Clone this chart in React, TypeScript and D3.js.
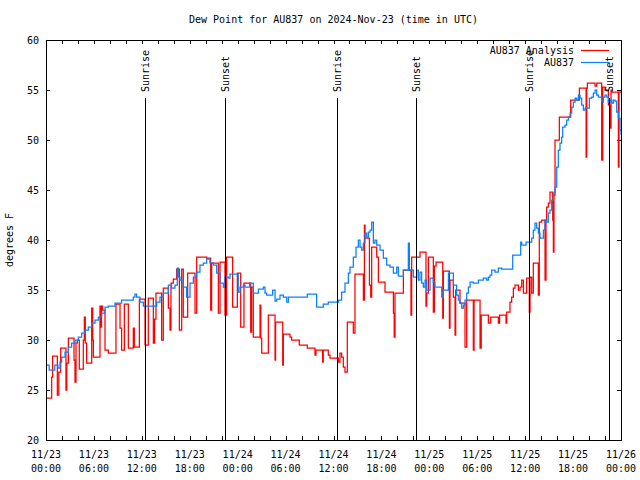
import { useEffect, useRef } from 'react';
import * as d3 from 'd3';

// hours after 2024-11-23 00:00 UTC
const analysisHours = [
  0, 0.71, 0.83, 1.42, 1.6, 1.84, 2.5, 2.6, 2.8, 3.51, 3.63, 3.76, 3.92, 4.17, 4.67, 4.8, 4.92, 5.09,
  5.72, 5.85, 5.93, 6.76, 6.89, 6.95, 7.1, 7.39, 7.81, 8.76, 9.27, 9.47, 9.81, 10.31, 10.93, 11.06,
  11.69, 12.4, 12.81, 13.44, 13.6, 13.77, 14.48, 14.69, 15.32, 15.53, 15.65, 15.94, 16.36, 16.7,
  16.99, 17.19, 17.74, 18.66, 18.87, 20.12, 20.62, 20.74, 21.58, 21.79, 22.41, 22.62, 23.37, 23.96,
  24.38, 24.79, 25.63, 25.75, 25.96, 26.8, 26.9, 27.01, 27.84, 28.68, 28.75, 29.64, 29.72, 30.55,
  30.76, 31.72, 32.72, 33.68, 33.8, 34.64, 34.72, 35.35, 35.56, 36.61, 36.81, 37.02, 37.23, 37.44,
  37.73, 38.48, 38.69, 39.74, 39.87, 39.95, 40.5, 40.66, 40.78, 41.41, 41.62, 42.45, 43.5, 43.6,
  43.7, 44.75, 45.7, 45.79, 46.83, 47.58, 47.67, 47.88, 48.5, 48.63, 48.84, 49.68, 49.76, 50.51,
  50.59, 51.01, 51.22, 51.3, 51.84, 52.47, 52.68, 53.51, 53.6, 54.35, 54.5, 55.39, 55.68, 56.64,
  56.8, 57.6, 57.69, 58.1, 58.31, 58.52, 58.73, 59.15, 59.36, 59.57, 59.78, 60.19, 60.52, 60.61,
  60.82, 61.02, 61.65, 61.77, 62.07, 62.49, 62.61, 62.69, 62.9, 63.11, 63.45, 63.53, 63.61, 63.74,
  64.28, 65.7, 66.79, 67.63, 67.71, 67.79, 68.75, 68.96, 69.58, 69.71, 70.0, 70.42, 70.63, 70.75,
  70.84, 71.67, 71.75, 72,
];
const analysisValues = [
  24.2, 26.3, 28.4, 24.5, 26.8, 29.2, 25.0, 27.7, 30.2, 28.0, 25.8, 29.7, 30.0, 27.1, 30.0, 32.3, 29.7, 27.7,
  33.2, 30.0, 28.3, 33.4, 31.3, 33.4, 33.0, 29.0, 28.7, 33.6, 31.2, 29.0, 33.6, 29.2, 31.2, 29.3,
  34.1, 29.5, 34.2, 29.7, 32.1, 34.7, 30.0, 35.2, 33.2, 31.0, 35.7, 36.1, 37.1, 31.0,
  37.1, 32.3, 36.7, 32.7, 38.3, 38.2, 33.0, 37.7, 32.7, 37.8, 32.5, 38.3, 33.3, 36.7,
  31.3, 35.7, 30.8, 35.3, 30.3, 33.5, 30.2, 28.7, 32.5, 28.0, 31.8, 27.5, 30.6, 30.3,
  30.0, 29.5, 29.2, 28.5, 29.0, 27.8, 29.0, 28.5, 28.2, 27.8, 28.7, 28.3, 27.3, 26.8,
  31.8, 30.7, 36.6, 34.0, 41.5, 40.2, 35.5, 34.3, 39.3, 38.3, 35.8, 34.8, 32.7, 30.3,
  34.7, 37.0, 32.5, 38.3, 38.8, 33.4, 34.7, 38.3, 32.8, 37.4, 37.8, 32.2, 36.9, 31.2,
  36.0, 34.3, 30.5, 35.0, 33.7, 29.3, 34.0, 29.0, 34.0, 29.2, 32.5, 31.7, 32.3, 31.7,
  32.5, 31.7, 32.8, 33.8, 34.3, 35.2, 35.5, 35.0, 35.3, 36.0, 34.7, 36.2, 32.8, 36.3,
  34.7, 37.7, 34.5, 41.8, 42.0, 36.0, 42.0, 43.3, 43.7, 44.8, 42.0, 38.8, 44.5, 50.0,
  52.3, 54.0, 55.2, 48.3, 55.2, 55.7, 55.4, 55.7, 48.0, 55.3, 55.0, 53.5, 51.2, 55.0,
  54.8, 47.3, 54.8, 54.8,
];

const stationHours = [
  0, 0.4, 1.1, 1.5, 1.75, 1.96, 2.38, 2.8, 3.21, 3.63, 4.05, 4.47, 4.88, 5.3, 5.72, 6.14, 6.55, 6.97,
  7.39, 7.81, 8.64, 9.47, 10.93, 11.14, 11.35, 11.77, 12.19, 13.86, 14.27, 14.69, 15.32, 15.73, 16.15,
  16.44, 16.6, 16.78, 17.19, 17.61, 18.03, 18.45, 18.87, 19.28, 19.7, 20.12, 20.53, 20.95, 21.37,
  21.79, 22.2, 22.41, 22.83, 23.04, 24.08, 24.29, 24.71, 24.92, 25.5, 25.96, 26.6, 27.21, 27.42,
  27.63, 28.38, 28.68, 28.89, 29.3, 29.72, 30.14, 30.35, 32.72, 33.89, 34.72, 35.35, 36.61, 37.02,
  37.44, 37.86, 38.07, 38.48, 38.82, 39.11, 39.32, 39.53, 39.74, 39.95, 40.16, 40.37, 40.58, 40.78,
  40.99, 41.2, 41.41, 41.83, 42.24, 42.66, 43.08, 43.5, 43.91, 44.12, 44.75, 45.37, 45.5, 46.0,
  46.41, 46.62, 46.83, 47.04, 47.25, 47.46, 47.67, 48.09, 48.5, 48.71, 49.55, 49.76, 50.39, 51.01,
  51.42, 51.63, 51.84, 52.05, 52.26, 52.47, 52.68, 52.89, 53.1, 53.51, 54.14, 54.76, 55.18, 55.39,
  55.6, 55.81, 56.23, 56.64, 57.06, 58.44, 59.44, 59.57, 60.11, 60.82, 61.02, 61.23, 61.44, 61.65,
  61.86, 62.28, 62.49, 62.69, 62.9, 63.11, 63.32, 63.53, 63.74, 63.95, 64.15, 64.36, 64.57, 64.7,
  64.99, 65.2, 65.41, 65.62, 65.83, 66.04, 66.25, 66.46, 66.67, 66.87, 67.08, 67.29, 67.5, 68.04,
  68.33, 68.54, 68.75, 68.96, 69.17, 69.58, 69.79, 70.0, 70.21, 70.42, 70.63, 70.84, 71.05, 71.25,
  71.46, 71.67, 71.88, 72,
];
const stationValues = [
  27.5, 27.0, 27.5, 27.2, 27.8, 28.3, 28.8, 29.3, 29.7, 30.0, 30.3, 30.7, 31.0, 31.3, 31.7, 32.0, 32.3, 32.7,
  33.3, 33.4, 33.7, 34.0, 34.3, 34.6, 34.3, 33.8, 33.4, 33.8, 34.3, 34.7, 35.5, 35.2, 35.5,
  37.2, 36.3, 36.0, 35.3, 34.3, 35.7, 36.3, 36.8, 37.5, 37.7, 38.1, 37.7, 37.5, 36.7,
  35.7, 35.3, 36.3, 36.2, 36.6, 34.8, 35.3, 35.5, 35.3, 35.7, 34.7, 35.1, 35.3, 34.7,
  34.5, 35.0, 33.9, 34.1, 34.5, 34.3, 33.8, 34.3, 34.6, 33.3, 33.6, 33.8, 34.0, 34.8,
  35.7, 36.7, 37.3, 38.3, 39.3, 40.0, 39.3, 39.0, 39.7, 40.7, 40.3, 40.8, 41.0, 41.8,
  39.7, 40.0, 39.5, 39.0, 38.2, 37.5, 37.3, 36.7, 37.3, 36.4, 37.0, 39.7, 37.0, 36.3,
  37.0, 36.0, 36.8, 35.7, 35.3, 36.0, 35.0, 36.2, 35.8, 35.3, 34.3, 35.0, 36.7, 35.5,
  34.5, 34.0, 33.7, 33.2, 33.5, 34.0, 34.7, 35.3, 35.8, 35.7, 36.0, 36.2, 36.0, 36.3,
  36.5, 37.0, 36.8, 37.2, 37.1, 38.5, 39.8, 39.5, 39.8, 40.2, 41.0, 41.7, 41.2, 40.7,
  40.2, 41.0, 42.0, 41.8, 42.7, 43.0, 44.0, 44.7, 45.3, 47.3, 49.0, 49.7, 50.3, 51.3,
  51.5, 52.0, 52.3, 52.7, 53.3, 53.8, 54.2, 54.0, 54.5, 54.2, 53.5, 53.0, 53.2, 54.2,
  54.3, 54.7, 55.0, 54.5, 54.3, 53.8, 54.3, 54.5, 54.3, 53.8, 54.0, 53.7, 54.0, 53.9,
  52.8, 52.2, 51.0, 50.5,
];

const sunLabels = ['Sunrise', 'Sunset', 'Sunrise', 'Sunset', 'Sunrise', 'Sunset'];
const sunHours = [12.4, 22.42, 36.5, 46.35, 60.52, 70.45];

const yTicks = [20, 25, 30, 35, 40, 45, 50, 55, 60];
const seriesNames = ['AU837 Analysis', 'AU837'];
const seriesColors = ['#ff0000', '#0a80ff'];

const START = Date.UTC(2024, 10, 23);
const toDate = (h: number) => new Date(START + h * 3600 * 1000);
const FONT = "'DejaVu Sans Mono', monospace";

export default function App() {
  const svgRef = useRef<SVGSVGElement>(null);

  useEffect(() => {
    if (!svgRef.current) return;
    document.body.style.margin = '0';

    const svg = d3.select(svgRef.current);
    svg.selectAll('*').remove();

    const width = 640;
    const height = 480;
    const margin = { top: 40, right: 19, bottom: 40, left: 46 };
    const x0 = margin.left;
    const x1 = width - margin.right;
    const y0 = height - margin.bottom;
    const y1 = margin.top;

    const x = d3.scaleUtc().domain([toDate(0), toDate(72)]).range([x0, x1]);
    const y = d3.scaleLinear().domain([20, 60]).range([y0, y1]);

    svg.attr('font-family', FONT).attr('font-size', 10);

    // Title
    svg
      .append('text')
      .attr('x', (x0 + x1) / 2)
      .attr('y', 23)
      .attr('text-anchor', 'middle')
      .text('Dew Point for AU837 on 2024-Nov-23 (time in UTC)');

    // Y label
    svg
      .append('text')
      .attr('transform', `translate(13,${(y0 + y1) / 2}) rotate(-90)`)
      .attr('text-anchor', 'middle')
      .text('degrees F');

    const hourTicks = d3.utcHour.every(2)!.range(toDate(0), toDate(72.01));

    // Axes with inward ticks on all four sides
    const left = svg
      .append('g')
      .attr('transform', `translate(${x0},0)`)
      .call(d3.axisLeft(y).tickValues(yTicks).tickSize(-4).tickPadding(7).tickFormat(d3.format('d')));
    const right = svg
      .append('g')
      .attr('transform', `translate(${x1},0)`)
      .call(d3.axisRight(y).tickValues(yTicks).tickSize(-4).tickFormat(() => ''));
    const bottom = svg
      .append('g')
      .attr('transform', `translate(0,${y0})`)
      .call(d3.axisBottom(x).tickValues(hourTicks).tickSize(-4).tickFormat(() => ''));
    const top = svg
      .append('g')
      .attr('transform', `translate(0,${y1})`)
      .call(d3.axisTop(x).tickValues(hourTicks).tickSize(-4).tickFormat(() => ''));

    [left, right, bottom, top].forEach((g) => {
      g.attr('font-family', FONT).attr('font-size', 10).attr('shape-rendering', 'crispEdges');
      g.selectAll('.domain').remove();
      g.selectAll('.tick line').attr('stroke', '#000');
      g.selectAll('text').attr('fill', '#000');
    });

    // Two-line date labels every 6 hours
    const labelTicks = d3.utcHour.every(6)!.range(toDate(0), toDate(72.01));
    const dayFmt = d3.utcFormat('%m/%d');
    const timeFmt = d3.utcFormat('%H:%M');
    const xl = svg.append('g').attr('text-anchor', 'middle');
    labelTicks.forEach((d) => {
      const t = xl.append('text').attr('x', x(d));
      t.append('tspan').attr('x', x(d)).attr('y', 458).text(dayFmt(d));
      t.append('tspan').attr('x', x(d)).attr('y', 472).text(timeFmt(d));
    });

    // Clip for data
    svg
      .append('clipPath')
      .attr('id', 'plot-clip')
      .append('rect')
      .attr('x', x0)
      .attr('y', y1)
      .attr('width', x1 - x0)
      .attr('height', y0 - y1);

    const line = d3
      .line<[number, number]>()
      .x((d) => x(toDate(d[0])))
      .y((d) => y(d[1]))
      .curve(d3.curveStepAfter);

    const series: [number, number][][] = [
      analysisHours.map((h, i) => [h, analysisValues[i]]),
      stationHours.map((h, i) => [h, stationValues[i]]),
    ];

    const plot = svg.append('g').attr('clip-path', 'url(#plot-clip)');
    series.forEach((pts, i) => {
      plot
        .append('path')
        .attr('d', line(pts))
        .attr('fill', 'none')
        .attr('stroke', seriesColors[i])
        .attr('stroke-width', 1.25);
    });

    // Sunrise / sunset markers
    sunHours.forEach((h, i) => {
      const sx = Math.round(x(toDate(h))) + 0.5;
      svg
        .append('line')
        .attr('x1', sx)
        .attr('x2', sx)
        .attr('y1', y(54.2))
        .attr('y2', y0)
        .attr('stroke', '#000')
        .attr('shape-rendering', 'crispEdges');
      svg
        .append('text')
        .attr('transform', `translate(${sx},${y(54.8)}) rotate(-90)`)
        .attr('dominant-baseline', 'central')
        .text(sunLabels[i]);
    });

    // Legend
    seriesNames.forEach((name, i) => {
      const ly = 50 + i * 12;
      svg
        .append('text')
        .attr('x', 574)
        .attr('y', ly)
        .attr('dy', '0.35em')
        .attr('text-anchor', 'end')
        .text(name);
      svg
        .append('line')
        .attr('x1', 581)
        .attr('x2', 609)
        .attr('y1', ly + 0.5)
        .attr('y2', ly + 0.5)
        .attr('stroke', seriesColors[i])
        .attr('stroke-width', 1.25);
    });

    // Border
    svg
      .append('rect')
      .attr('x', x0 + 0.5)
      .attr('y', y1 + 0.5)
      .attr('width', x1 - x0)
      .attr('height', y0 - y1)
      .attr('fill', 'none')
      .attr('stroke', '#000')
      .attr('shape-rendering', 'crispEdges');
  }, []);

  return <svg ref={svgRef} width={640} height={480} style={{ display: 'block', background: '#fff' }} />;
}
